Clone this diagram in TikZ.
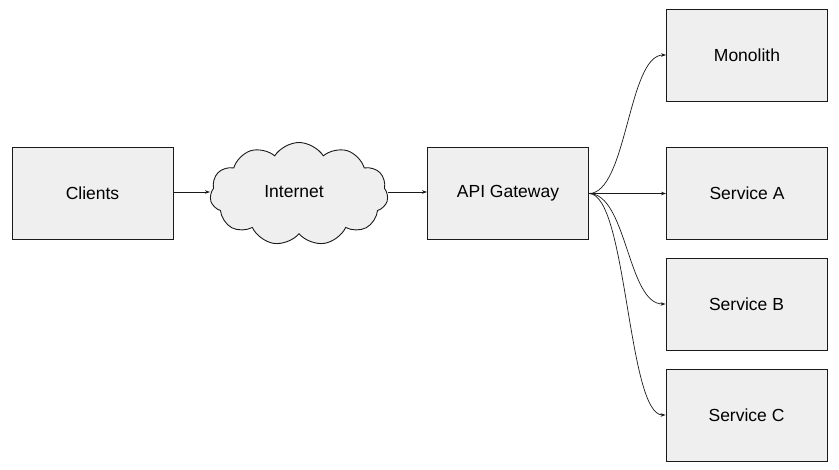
\documentclass[tikz,border=0pt]{standalone}
\usepackage{fontspec}
\setmainfont{Liberation Sans}
\usetikzlibrary{shapes.symbols,arrows.meta,calc}
\definecolor{boxfill}{HTML}{EFEFEF}
\definecolor{boxline}{HTML}{1A1A1A}
\begin{document}
\begin{tikzpicture}[x=1pt,y=-1pt,
  blk/.style={draw=boxline,fill=boxfill,line width=0.9pt,minimum width=161pt,minimum height=92pt,inner sep=0pt,font=\fontsize{17.5}{20}\selectfont},
  cloudnode/.style={cloud,draw=boxline,fill=boxfill,line width=0.9pt,cloud puffs=11,cloud puff arc=115,aspect=1.75,minimum width=178pt,minimum height=103pt,inner sep=0pt,font=\fontsize{17.5}{20}\selectfont},
  conn/.style={draw=boxline,line width=0.7pt,-{Stealth[length=5pt,width=3.5pt]}}]
\useasboundingbox (0,0) rectangle (839,470);
\node[blk] (clients) at (92.5,193) {Clients};
\node[cloudnode] (internet) at (299,194) {};
\node (inettext) at (294,192) {\fontsize{17.5}{20}\selectfont Internet};
\node[blk] (gw) at (508,193.5) {API Gateway};
\node[blk] (mono) at (747,55) {Monolith};
\node[blk] (sa) at (747,193.5) {Service A};
\node[blk] (sb) at (746.5,304) {Service B};
\node[blk] (sc) at (746.5,415) {Service C};
\coordinate (inW) at (210,192);
\coordinate (inE) at (388,192);
\draw[conn] (clients.east |- inW) -- (inW);
\draw[conn] (inE) -- (gw.west |- inE);
\draw[conn] (gw.east) .. controls ($(gw.east)+(38,0)$) and ($(mono.west)+(-38,0)$) .. (mono.west);
\draw[conn] (gw.east) -- (sa.west);
\draw[conn] (gw.east) .. controls ($(gw.east)+(38,0)$) and ($(sb.west)+(-38,0)$) .. (sb.west);
\draw[conn] (gw.east) .. controls ($(gw.east)+(38,0)$) and ($(sc.west)+(-38,0)$) .. (sc.west);
\end{tikzpicture}
\end{document}
